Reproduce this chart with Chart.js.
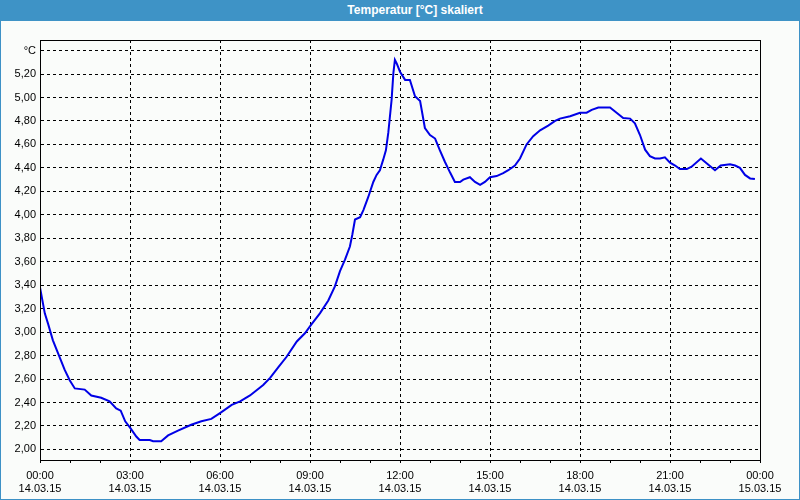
<!DOCTYPE html>
<html>
<head>
<meta charset="utf-8">
<script src="https://cdn.jsdelivr.net/npm/chart.js@4"></script>
<style>
  html, body { margin: 0; padding: 0; }
  body { width: 800px; height: 500px; background: #fafcfa; position: relative; overflow: hidden; }
  .frame { position: absolute; left: 0; top: 0; width: 798px; height: 499px; border: 1px solid #3d91c6; border-top: none; }
  .title {
    position: absolute; left: 0; top: 0; width: 800px; height: 21px;
    background: #3e93c6; color: #fff;
    font: bold 12px "Liberation Sans", Arial, sans-serif;
    line-height: 21px; text-align: center; box-sizing: border-box; padding-left: 30px;
  }
  .wrap { position: absolute; left: 1px; top: 21px; width: 798px; height: 478px; }
</style>
</head>
<body>
<div class="frame"></div>
<div class="title">Temperatur [°C] skaliert</div>
<div class="wrap"><canvas id="tempChart"></canvas></div>
<script>
// Messzeit in Stunden ab 14.03.15 00:00
const HOURS = [
  0.00, 0.16, 0.27, 0.43, 0.60, 0.82, 0.99, 1.16, 1.49, 1.71, 2.04, 2.32, 2.54, 2.69, 2.84,
  3.02, 3.21, 3.32, 3.66, 3.77, 4.04, 4.27, 4.60, 5.04, 5.38, 5.71, 6.00, 6.39, 6.67, 7.00,
  7.44, 7.67, 7.94, 8.22, 8.56, 8.83, 9.06, 9.33, 9.61, 9.83, 10.00, 10.17, 10.33, 10.41, 10.50,
  10.67, 10.78, 10.94, 11.11, 11.22, 11.33, 11.44, 11.53, 11.61, 11.72, 11.78, 11.83, 11.89, 12.00, 12.17,
  12.33, 12.50, 12.67, 12.83, 13.00, 13.17, 13.33, 13.50, 13.67, 13.83, 14.00, 14.11, 14.33, 14.50, 14.67,
  14.83, 15.00, 15.22, 15.44, 15.61, 15.83, 16.00, 16.22, 16.44, 16.67, 16.94, 17.17, 17.33, 17.67, 18.00,
  18.22, 18.39, 18.61, 19.00, 19.22, 19.44, 19.67, 19.83, 20.00, 20.17, 20.33, 20.50, 20.67, 20.83, 21.00,
  21.17, 21.33, 21.56, 21.72, 22.03, 22.22, 22.50, 22.69, 23.00, 23.17, 23.33, 23.50, 23.67, 23.83,
];

// Temperatur [°C]
const TEMPS = [
  3.38, 3.16, 3.07, 2.93, 2.82, 2.68, 2.59, 2.52, 2.51, 2.46, 2.44, 2.41, 2.35, 2.33, 2.24,
  2.18, 2.11, 2.08, 2.08, 2.07, 2.07, 2.12, 2.16, 2.21, 2.24, 2.26, 2.31, 2.38, 2.41, 2.46,
  2.55, 2.61, 2.70, 2.79, 2.92, 2.99, 3.07, 3.16, 3.27, 3.39, 3.52, 3.62, 3.73, 3.83, 3.96,
  3.98, 4.04, 4.15, 4.28, 4.34, 4.38, 4.47, 4.55, 4.70, 4.98, 5.21, 5.32, 5.29, 5.22, 5.15,
  5.15, 5.01, 4.97, 4.74, 4.68, 4.65, 4.55, 4.45, 4.36, 4.28, 4.28, 4.30, 4.32, 4.28, 4.255,
  4.28, 4.32, 4.33, 4.355, 4.38, 4.42, 4.48, 4.60, 4.67, 4.72, 4.76, 4.80, 4.82, 4.84, 4.87,
  4.87, 4.895, 4.915, 4.915, 4.87, 4.825, 4.82, 4.78, 4.68, 4.555, 4.50, 4.48, 4.48, 4.49, 4.445,
  4.42, 4.39, 4.39, 4.41, 4.48, 4.44, 4.38, 4.42, 4.43, 4.42, 4.40, 4.34, 4.31, 4.305,
];

// Achsenbeschriftung
const Y_TICKS  = [2.0, 2.2, 2.4, 2.6, 2.8, 3.0, 3.2, 3.4, 3.6, 3.8, 4.0, 4.2, 4.4, 4.6, 4.8, 5.0, 5.2, 5.4];
const Y_UNIT   = "°C";
const X_TIMES  = ["00:00", "03:00", "06:00", "09:00", "12:00", "15:00", "18:00", "21:00", "00:00"];
const X_DATES  = ["14.03.15", "14.03.15", "14.03.15", "14.03.15", "14.03.15", "14.03.15", "14.03.15", "14.03.15", "15.03.15"];

const FONT = { family: "'Liberation Sans', Arial, sans-serif", size: 11 };

// Rahmen um den Plotbereich (durchgezogen, über den gestrichelten Gitterlinien)
const frameBox = {
  id: "frameBox",
  afterDraw(chart) {
    const { ctx, chartArea: a } = chart;
    ctx.save();
    ctx.setLineDash([]);
    ctx.strokeStyle = "#000";
    ctx.lineWidth = 1;
    ctx.strokeRect(Math.round(a.left) + 0.5, Math.round(a.top) + 0.5,
                   Math.round(a.right - a.left), Math.round(a.bottom - a.top));
    ctx.restore();
  },
};

new Chart(document.getElementById("tempChart").getContext("2d"), {
  type: "line",
  data: {
    datasets: [{
      label: "Temperatur",
      data: HOURS.map((h, i) => ({ x: h, y: TEMPS[i] })),
      borderColor: "#0000e6",
      borderWidth: 2,
      pointRadius: 0,
      tension: 0,
      fill: false,
    }],
  },
  options: {
    responsive: true,
    maintainAspectRatio: false,
    animation: false,
    layout: { padding: { top: 19, right: 39, left: 0, bottom: 0 } },
    plugins: { legend: { display: false }, tooltip: { enabled: false } },
    scales: {
      x: {
        type: "linear",
        min: 0, max: 24,
        afterFit: s => { s.height = 39; },
        afterBuildTicks: s => { s.ticks = Array.from({ length: 25 }, (_, i) => ({ value: i })); },
        border: { display: true, color: "#000", width: 1, dash: [3, 3] },
        grid: {
          color: c => (c.tick && c.tick.value % 3 === 0 && c.tick.value > 0 && c.tick.value < 24) ? "#000" : "rgba(0,0,0,0)",
          tickColor: "#000",
          tickLength: 3,
          tickBorderDash: [],
        },
        ticks: {
          autoSkip: false, maxRotation: 0, padding: 6,
          color: "#000", font: FONT,
          callback: v => v % 3 === 0 ? [X_TIMES[v / 3], X_DATES[v / 3]] : "",
        },
      },
      y: {
        min: 1.91, max: 5.49,
        afterFit: s => { s.width = 39; },
        afterBuildTicks: s => { s.ticks = Y_TICKS.map(v => ({ value: v })); },
        border: { display: true, color: "#000", width: 1, dash: [3, 3] },
        grid: { color: "#000", drawTicks: false },
        ticks: {
          padding: 4, color: "#000", font: FONT,
          callback: v => Math.abs(v - 5.4) < 1e-6 ? Y_UNIT : v.toFixed(2).replace(".", ","),
        },
      },
    },
  },
  plugins: [frameBox],
});
</script>
</body>
</html>
